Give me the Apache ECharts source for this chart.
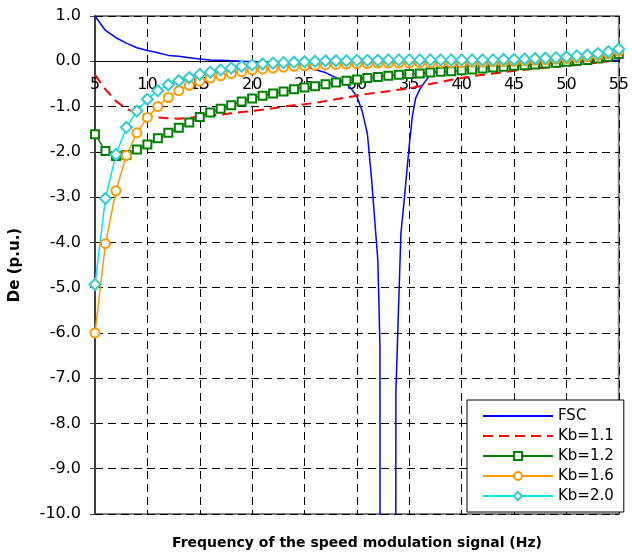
<!DOCTYPE html>
<html>
<head>
<meta charset="utf-8">
<script src="https://cdn.jsdelivr.net/npm/echarts@6/dist/echarts.min.js"></script>
<style>
  html, body { margin: 0; padding: 0; background: #fff; }
  #main { width: 632px; height: 554px; }
</style>
</head>
<body>
<div id="main"></div>
<script>
// frequency (Hz) for the marker series
var freq = [];
for (var f = 5; f <= 55; f++) freq.push(f);

// FSC is sampled finer around the resonance, so keep it as [Hz, De] pairs
var fsc = [
    [5, 1.0], [6, 0.68], [7, 0.52], [8, 0.4], [9, 0.3], [10, 0.24], [11, 0.19], [12, 0.13],
    [13, 0.11], [14, 0.08], [15, 0.05], [16, 0.03], [17, 0.02], [18, 0.01], [19, 0.0], [20, -0.01],
    [21, -0.02], [22, -0.03], [23, -0.05], [24, -0.07], [25, -0.1], [26, -0.18], [27, -0.25],
    [28, -0.36], [29, -0.5], [29.5, -0.62], [30, -0.78], [30.5, -1.1], [31, -1.6], [31.4, -2.6],
    [32, -4.4], [32.2, -6.3], [32.22, -20], [33.7, -20], [33.72, -7.3], [33.9, -6.0], [34.2, -3.8],
    [34.5, -3.1], [35, -1.85], [35.3, -1.2], [35.6, -0.82], [36, -0.62], [36.5, -0.45], [37, -0.3],
    [38, -0.16], [39, -0.09], [40, -0.06], [42, -0.04], [45, -0.03], [50, -0.01], [55, 0.02]
];

var kb11 = [-0.3, -0.62, -0.88, -1.05, -1.15, -1.2, -1.24, -1.26, -1.27, -1.25, -1.22, -1.2, -1.18,
    -1.15, -1.12, -1.1, -1.07, -1.04, -1.0, -0.97, -0.95, -0.92, -0.88, -0.84, -0.8, -0.76, -0.72,
    -0.69, -0.66, -0.63, -0.6, -0.55, -0.5, -0.46, -0.41, -0.37, -0.33, -0.3, -0.27, -0.24, -0.21,
    -0.19, -0.16, -0.14, -0.12, -0.1, -0.08, -0.05, -0.03, 0.0, 0.05];

var kb12 = [-1.61, -1.98, -2.09, -2.07, -1.95, -1.84, -1.7, -1.58, -1.47, -1.35, -1.23, -1.13,
    -1.05, -0.97, -0.89, -0.82, -0.76, -0.71, -0.67, -0.62, -0.58, -0.55, -0.51, -0.47, -0.43,
    -0.4, -0.37, -0.35, -0.32, -0.3, -0.28, -0.27, -0.25, -0.23, -0.22, -0.2, -0.18, -0.16, -0.14,
    -0.12, -0.1, -0.09, -0.07, -0.05, -0.03, -0.01, 0.01, 0.03, 0.06, 0.1, 0.16];

var kb16 = [-6.0, -4.03, -2.86, -2.08, -1.58, -1.24, -1.0, -0.8, -0.65, -0.53, -0.44, -0.37,
    -0.32, -0.27, -0.23, -0.19, -0.17, -0.15, -0.13, -0.11, -0.1, -0.09, -0.08, -0.07, -0.06,
    -0.05, -0.05, -0.04, -0.04, -0.04, -0.04, -0.03, -0.03, -0.03, -0.03, -0.03, -0.02, -0.02,
    -0.01, -0.01, 0.0, 0.01, 0.02, 0.03, 0.05, 0.06, 0.08, 0.1, 0.13, 0.17, 0.22];

var kb20 = [-4.93, -3.03, -2.06, -1.46, -1.1, -0.84, -0.65, -0.52, -0.43, -0.36, -0.29, -0.24,
    -0.19, -0.15, -0.11, -0.08, -0.06, -0.04, -0.03, -0.02, -0.01, 0.0, 0.01, 0.01, 0.01, 0.02,
    0.02, 0.02, 0.03, 0.03, 0.03, 0.03, 0.03, 0.03, 0.03, 0.03, 0.03, 0.03, 0.03, 0.04, 0.04,
    0.05, 0.06, 0.07, 0.08, 0.1, 0.12, 0.14, 0.17, 0.21, 0.27];

var names = ['FSC', 'Kb=1.1', 'Kb=1.2', 'Kb=1.6', 'Kb=2.0'];

function pairs(ys) {
    var out = [];
    for (var i = 0; i < freq.length; i++) out.push([freq[i], ys[i]]);
    return out;
}

function de_chart(div) {
    var myChart = echarts.init(div);
    var font = 'DejaVu Sans';
    var noMark = { color: 'rgba(0,0,0,0)', borderColor: 'rgba(0,0,0,0)', borderWidth: 0 };
    option = {
        animation: false,
        backgroundColor: '#fff',
        grid: {
            left: 91, right: 9, top: 16, bottom: 40,
            show: true,
            borderColor: '#808080',
            borderWidth: 2
        },
        legend: {
            data: [
                { name: names[0], itemStyle: noMark },
                { name: names[1], itemStyle: noMark },
                names[2], names[3], names[4]
            ],
            orient: 'vertical',
            left: 467,
            top: 400,
            itemWidth: 70,
            itemHeight: 10,
            itemGap: 4,
            padding: [8, 10, 8, 15],
            backgroundColor: '#fff',
            borderColor: '#000',
            borderWidth: 1,
            borderRadius: 0,
            textStyle: { fontFamily: font, fontSize: 15, color: '#000', lineHeight: 16 }
        },
        xAxis: {
            type: 'value',
            min: 5, max: 55, interval: 5,
            // the category axis crosses at De = 0, labels go with it
            offset: -452.7,
            axisLine: { onZero: false, lineStyle: { color: '#000', width: 1 } },
            axisTick: { show: false },
            axisLabel: { fontFamily: font, fontSize: 16, color: '#000', margin: 16 },
            splitLine: { show: true, lineStyle: { color: '#000', type: [8, 5], width: 1 } }
        },
        yAxis: {
            type: 'value',
            min: -10, max: 1, interval: 1,
            name: 'De (p.u.)',
            nameLocation: 'middle',
            nameGap: 72,
            nameTextStyle: { fontFamily: font, fontSize: 15, fontWeight: 'bold', color: '#000' },
            axisLine: { show: true, onZero: false, lineStyle: { color: '#404040', width: 2 } },
            axisTick: { show: true, length: 5, lineStyle: { color: '#404040' } },
            axisLabel: {
                fontFamily: font, fontSize: 16, color: '#000', margin: 14,
                formatter: function (v) { return v.toFixed(1); }
            },
            splitLine: { show: true, lineStyle: { color: '#000', type: [8, 5], width: 1 } }
        },
        graphic: [{
            type: 'text',
            x: 357, y: 543,
            style: {
                text: 'Frequency of the speed modulation signal (Hz)',
                font: 'bold 14px "DejaVu Sans"',
                fill: '#000',
                align: 'center',
                verticalAlign: 'middle'
            }
        }],
        series: [
            {
                name: names[0], type: 'line', data: fsc, symbol: 'none',
                lineStyle: { color: '#0000ff', width: 1.5 },
                itemStyle: { color: '#0000ff' }
            },
            {
                name: names[1], type: 'line', data: pairs(kb11), symbol: 'none',
                lineStyle: { color: '#ff0000', width: 2, type: [10, 6] },
                itemStyle: { color: '#ff0000' }
            },
            {
                name: names[2], type: 'line', data: pairs(kb12),
                symbol: 'emptyRect', symbolSize: 8,
                lineStyle: { color: '#008000', width: 1.5 },
                itemStyle: { color: '#008000', borderWidth: 1.5 }
            },
            {
                name: names[3], type: 'line', data: pairs(kb16),
                symbol: 'emptyCircle', symbolSize: 9,
                lineStyle: { color: '#ff9900', width: 1.5 },
                itemStyle: { color: '#ff9900', borderWidth: 1.5 }
            },
            {
                name: names[4], type: 'line', data: pairs(kb20),
                symbol: 'emptyDiamond', symbolSize: 11,
                lineStyle: { color: '#00e5ee', width: 1.5 },
                itemStyle: { color: '#33cccc', borderWidth: 1.5 }
            }
        ]
    };
    myChart.setOption(option, true);
}

de_chart(document.getElementById('main'));
</script>
</body>
</html>
